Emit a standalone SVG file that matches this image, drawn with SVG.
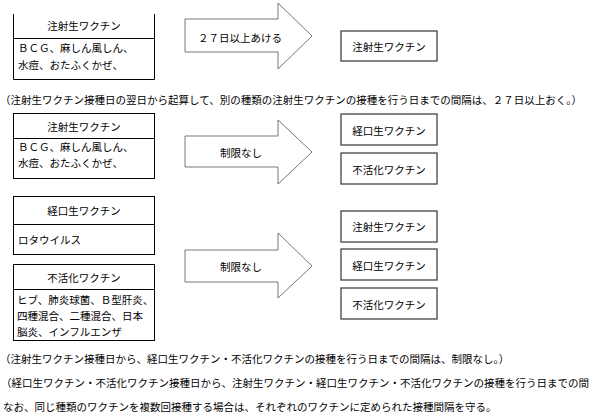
<svg xmlns="http://www.w3.org/2000/svg" width="598" height="418" viewBox="0 0 598 418">
<style>
text{font-family:"Noto Sans CJK JP","Noto Sans CJK SC",sans-serif;font-size:10.5px;fill:#000;dominant-baseline:central}
.c{text-anchor:middle}
.box{fill:#fff;stroke:#000;stroke-width:1}
.rbox{fill:#fff;stroke:#444;stroke-width:1.3}
.sep{stroke:#000;stroke-width:1}
.arr{fill:#fff;stroke:#555;stroke-width:0.8}
</style>
<rect width="598" height="418" fill="#fff"/>
<g id="connectors">
<g id="arrow1"><polygon class="arr" points="185,19 278,19 278,3 312,36 278,69 278,52 185,52"/><text class="c" x="240" y="37">２７日以上あける</text></g>
<g id="arrow2"><polygon class="arr" points="185,136 278,136 278,120 312,152 278,184 278,167 185,167"/><text class="c" x="241" y="152">制限なし</text></g>
<g id="arrow3"><polygon class="arr" points="185,250 278,250 278,233 312,266 278,298 278,282 185,282"/><text class="c" x="241" y="266">制限なし</text></g>
</g>
<g id="node-inj-top">
<path d="M13.5,14 V79.5 H154.5 V14" fill="#fff" stroke="#000"/>
<line class="sep" x1="13.5" y1="38.5" x2="154.5" y2="38.5"/>
<text class="c" x="84" y="25">注射生ワクチン</text>
<text x="18" y="47">ＢＣＧ、麻しん風しん、</text>
<text x="18" y="64">水痘、おたふくかぜ、</text>
</g>
<g id="node-inj-target"><rect class="rbox" x="341" y="31" width="96" height="30"/><text class="c" x="389" y="46">注射生ワクチン</text></g>
<text id="note1" x="0" y="99">（注射生ワクチン接種日の翌日から起算して、別の種類の注射生ワクチンの接種を行う日までの間隔は、２７日以上おく。）</text>
<g id="node-inj-2">
<rect class="box" x="13.5" y="113.5" width="141" height="65"/>
<line class="sep" x1="13.5" y1="138.5" x2="154.5" y2="138.5"/>
<text class="c" x="84" y="126">注射生ワクチン</text>
<text x="18" y="146">ＢＣＧ、麻しん風しん、</text>
<text x="18" y="162">水痘、おたふくかぜ、</text>
</g>
<g id="node-oral-t2"><rect class="rbox" x="341" y="114" width="96" height="31"/><text class="c" x="389" y="130">経口生ワクチン</text></g>
<g id="node-inact-t2"><rect class="rbox" x="341" y="153" width="96" height="31"/><text class="c" x="389" y="169">不活化ワクチン</text></g>
<g id="node-oral">
<rect class="box" x="13.5" y="196.5" width="141" height="58"/>
<line class="sep" x1="13.5" y1="224.5" x2="154.5" y2="224.5"/>
<text class="c" x="84" y="210">経口生ワクチン</text>
<text x="18" y="239">ロタウイルス</text>
</g>
<g id="node-inact">
<rect class="box" x="13.5" y="264.5" width="141" height="76"/>
<line class="sep" x1="13.5" y1="289.5" x2="154.5" y2="289.5"/>
<text class="c" x="84" y="277">不活化ワクチン</text>
<text x="17" y="299">ヒブ、肺炎球菌、Ｂ型肝炎、</text>
<text x="17" y="315">四種混合、二種混合、日本</text>
<text x="17" y="331">脳炎、インフルエンザ</text>
</g>
<g id="node-inj-t3"><rect class="rbox" x="341" y="211" width="96" height="31"/><text class="c" x="389" y="226">注射生ワクチン</text></g>
<g id="node-oral-t3"><rect class="rbox" x="341" y="249" width="96" height="31"/><text class="c" x="389" y="265">経口生ワクチン</text></g>
<g id="node-inact-t3"><rect class="rbox" x="341" y="288" width="96" height="31"/><text class="c" x="389" y="304">不活化ワクチン</text></g>
<text id="note2" x="0" y="358">（注射生ワクチン接種日から、経口生ワクチン・不活化ワクチンの接種を行う日までの間隔は、制限なし。）</text>
<text id="note3" x="1" y="382">（経口生ワクチン・不活化ワクチン接種日から、注射生ワクチン・経口生ワクチン・不活化ワクチンの接種を行う日までの間</text>
<text id="note4" x="3" y="406">なお、同じ種類のワクチンを複数回接種する場合は、それぞれのワクチンに定められた接種間隔を守る。</text>
</svg>
